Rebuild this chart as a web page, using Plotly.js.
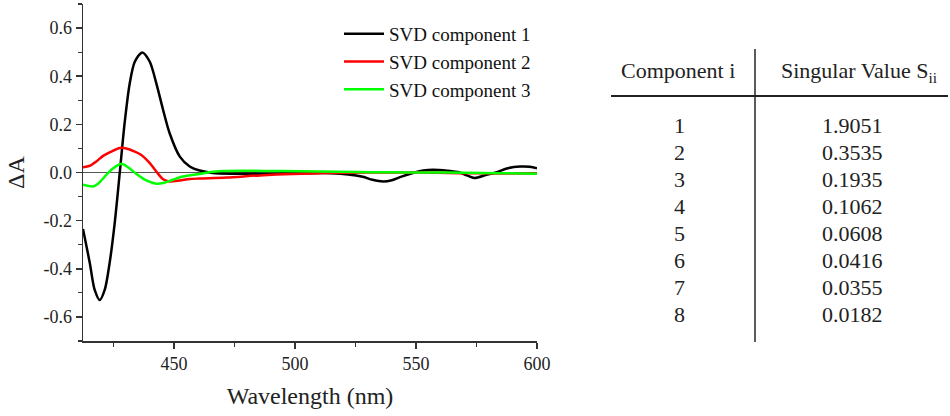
<!DOCTYPE html>
<html>
<head>
<meta charset="utf-8">
<script src="https://cdn.plot.ly/plotly-3.0.1.min.js"></script>
<style>html,body{margin:0;padding:0;background:#fff;}#chart{width:950px;height:416px;}</style>
</head>
<body>
<div id="chart"></div>
<script>
// SVD component 1
const wl1 = [412.4,415.2,417.2,419.3,421.4,423.4,425.5,427.6,429.6,431.7,433.8,436.9,440.0,442.7,445.5,448.2,452.4,456.5,460.6,466,475,490,505,515,522,528,532,536.4,540,544,549.4,553,557,563,568,571,574.2,579,583,588,593,597,600];
const comp1 = [-0.235,-0.376,-0.487,-0.530,-0.487,-0.376,-0.21,0.0,0.205,0.37,0.46,0.499,0.46,0.37,0.26,0.163,0.066,0.025,0.008,-0.002,-0.005,-0.005,-0.003,-0.003,-0.008,-0.018,-0.03,-0.037,-0.032,-0.017,0.0,0.008,0.011,0.007,0.0,-0.012,-0.023,-0.01,0.0,0.018,0.025,0.024,0.018];
// SVD component 2
const wl2 = [412.4,415.2,417.9,420.7,424.1,427.6,430.3,433.8,436.5,440.0,442.7,445.5,448.2,452.4,456.5,460.6,471.6,485.4,499,513,530,550,568,585,600];
const comp2 = [0.022,0.028,0.046,0.069,0.087,0.102,0.100,0.087,0.073,0.039,0.004,-0.028,-0.037,-0.033,-0.027,-0.025,-0.021,-0.012,-0.006,-0.002,0.0,0.0,-0.003,-0.004,-0.004];
// SVD component 3
const wl3 = [412.4,416.6,418.6,421.4,424.1,428.3,431.0,434.5,438.6,442.7,445.5,449.6,453.7,460.6,465,470,480,495,510,525,540,555,570,585,600];
const comp3 = [-0.051,-0.058,-0.047,-0.017,0.011,0.036,0.022,-0.006,-0.033,-0.047,-0.044,-0.030,-0.017,-0.006,0.002,0.006,0.007,0.006,0.004,0.002,0.001,0.0,-0.001,-0.003,-0.005];

const seriesNames = ["SVD component 1","SVD component 2","SVD component 3"];
const seriesColors = ["#000000","#ff0000","#00ff00"];

const xTickVals = [450,500,550,600];
const xTickText = ["450","500","550","600"];
const yTickVals = [-0.6,-0.4,-0.2,0.0,0.2,0.4,0.6];
const yTickText = ["-0.6","-0.4","-0.2","0.0","0.2","0.4","0.6"];

// Table
const tableHeader = ["Component i","Singular Value S<sub>ii</sub>"];
const componentIdx = ["1","2","3","4","5","6","7","8"];
const singularValues = ["1.9051","0.3535","0.1935","0.1062","0.0608","0.0416","0.0355","0.0182"];

const W = 950, H = 416;
const px = v => v / W;
const py = v => 1 - v / H;
const SERIF = "Liberation Serif";

const traces = [[wl1,comp1],[wl2,comp2],[wl3,comp3]].map((d,i)=>({
  x: d[0], y: d[1], type: "scatter", mode: "lines",
  name: seriesNames[i],
  line: {color: seriesColors[i], width: 2.5, shape: "spline", smoothing: 0.8}
}));

const annotations = [];
const shapes = [];
annotations.push({xref:"paper",yref:"paper",x:px(678),y:py(70),text:tableHeader[0],showarrow:false,xanchor:"center",yanchor:"middle",font:{family:SERIF,size:22,color:"#222"}});
annotations.push({xref:"paper",yref:"paper",x:px(859),y:py(72),text:tableHeader[1],showarrow:false,xanchor:"center",yanchor:"middle",font:{family:SERIF,size:22,color:"#222"}});
componentIdx.forEach((c,i)=>{
  const yy = 125.5 + i*27.0;
  annotations.push({xref:"paper",yref:"paper",x:px(679),y:py(yy),text:c,showarrow:false,xanchor:"center",yanchor:"middle",font:{family:SERIF,size:22,color:"#222"}});
  annotations.push({xref:"paper",yref:"paper",x:px(852),y:py(yy),text:singularValues[i],showarrow:false,xanchor:"center",yanchor:"middle",font:{family:SERIF,size:22,color:"#222"}});
});
shapes.push({type:"line",xref:"paper",yref:"paper",x0:px(755),x1:px(755),y0:py(49),y1:py(342),line:{color:"#333",width:1.6}});
shapes.push({type:"line",xref:"paper",yref:"paper",x0:px(611),x1:px(948),y0:py(96),y1:py(96),line:{color:"#222",width:2.2}});

const layout = {
  width: W, height: H,
  margin: {l:0,r:0,t:0,b:0},
  font: {family: SERIF},
  paper_bgcolor: "#fff", plot_bgcolor: "#fff",
  showlegend: true,
  legend: {x: px(339), y: py(15), xanchor:"left", yanchor:"top", bgcolor:"rgba(0,0,0,0)", borderwidth:0, itemwidth:40, font:{family:SERIF,size:19,color:"#111"}, tracegroupgap:0},
  xaxis: {
    domain: [83/W, 537/W], range: [412.4, 600],
    showgrid:false, zeroline:false, showline:true, linecolor:"#333", linewidth:1.5,
    ticks:"outside", ticklen:6, tickwidth:1.5, tickcolor:"#333",
    tickvals: xTickVals, ticktext: xTickText,
    minor: {ticks:"outside", ticklen:4, tickwidth:1.2, tickcolor:"#333", tick0:425, dtick:25, showgrid:false},
    tickfont: {family:SERIF,size:18,color:"#222"},
    title: {text:"Wavelength (nm)", font:{family:SERIF,size:24,color:"#222"}, standoff:14}
  },
  yaxis: {
    domain: [1-341/H, 1-4/H], range: [-0.7, 0.7],
    showgrid:false, zeroline:true, zerolinecolor:"#555", zerolinewidth:1.5,
    showline:true, linecolor:"#333", linewidth:1.5,
    ticks:"outside", ticklen:6, tickwidth:1.5, tickcolor:"#333",
    tickvals: yTickVals, ticktext: yTickText,
    minor: {ticks:"outside", ticklen:4, tickwidth:1.2, tickcolor:"#333", tick0:0.1, dtick:0.2, showgrid:false},
    tickfont: {family:SERIF,size:18,color:"#222"},
    title: {text:"ΔA", font:{family:SERIF,size:24,color:"#222"}, standoff:12}
  },
  annotations: annotations,
  shapes: shapes
};

Plotly.newPlot("chart", traces, layout, {displayModeBar:false, staticPlot:true});
</script>
</body>
</html>
